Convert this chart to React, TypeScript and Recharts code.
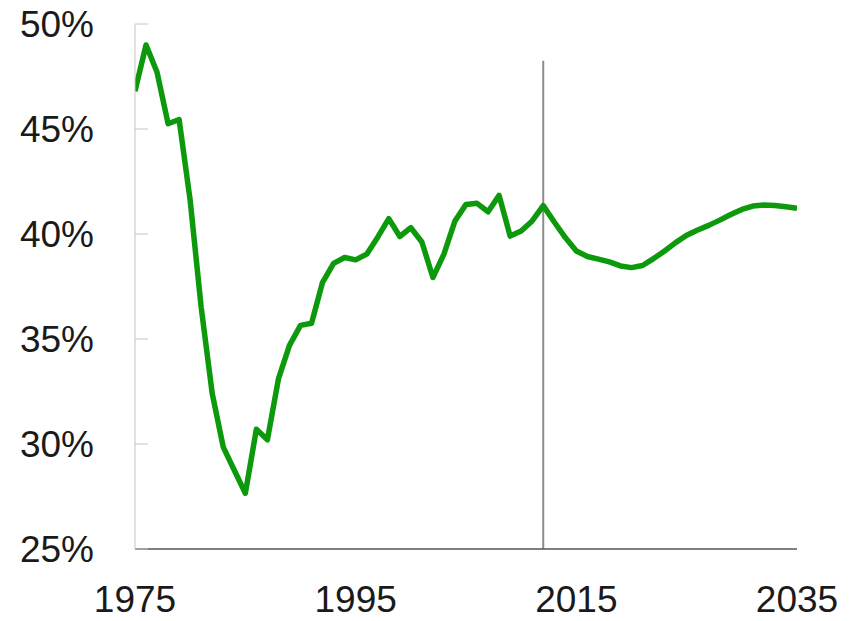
import { LineChart, Line, XAxis, YAxis, ReferenceLine } from 'recharts';

// years and share values (2013+ is the projection)
const years = [
    1975, 1976, 1977, 1978, 1979, 1980, 1981, 1982, 1983, 1984,
    1985, 1986, 1987, 1988, 1989, 1990, 1991, 1992, 1993, 1994,
    1995, 1996, 1997, 1998, 1999, 2000, 2001, 2002, 2003, 2004,
    2005, 2006, 2007, 2008, 2009, 2010, 2011, 2012, 2013, 2014,
    2015, 2016, 2017, 2018, 2019, 2020, 2021, 2022, 2023, 2024,
    2025, 2026, 2027, 2028, 2029, 2030, 2031, 2032, 2033, 2034,
    2035,
];
const shares = [
    46.8, 49.0, 47.7, 45.25, 45.45, 41.6, 36.5, 32.4, 29.85, 28.75,
    27.65, 30.7, 30.2, 33.1, 34.7, 35.65, 35.75, 37.7, 38.6, 38.88,
    38.77, 39.04, 39.85, 40.73, 39.88, 40.3, 39.62, 37.93, 39.04, 40.62,
    41.41, 41.46, 41.06, 41.84, 39.9, 40.14, 40.62, 41.35, 40.57, 39.83,
    39.19, 38.93, 38.8, 38.67, 38.48, 38.4, 38.5, 38.83, 39.19, 39.59,
    39.94, 40.19, 40.41, 40.66, 40.93, 41.17, 41.33, 41.38, 41.36, 41.3,
    41.22,
];
const xTicks = [1975, 1995, 2015, 2035];
const yTicks = [25, 30, 35, 40, 45, 50];
const splitYear = 2012;
const splitTop = 48.25;

const data = years.map((year, i) => ({ year, share: shares[i] }));

const tickFont = { fontFamily: '"Liberation Sans", Arial, sans-serif', fontSize: 37, fill: '#1a1a1a' };

export default function App() {
    return (
        <div style={{ position: 'absolute', left: 0, top: 0, background: '#fff' }}>
            <LineChart
                width={858}
                height={621}
                data={data}
                margin={{ top: 24, right: 61, bottom: 0, left: 0 }}
            >
                <XAxis
                    type="number"
                    dataKey="year"
                    domain={[1975, 2035]}
                    ticks={xTicks}
                    height={72}
                    tickLine={false}
                    tickSize={0}
                    tickMargin={37}
                    axisLine={{ stroke: '#555', strokeWidth: 1.5 }}
                    tick={tickFont}
                    allowDataOverflow
                />
                <YAxis
                    type="number"
                    domain={[25, 50]}
                    ticks={yTicks}
                    width={135}
                    tickSize={-13}
                    tickMargin={54}
                    tickLine={{ stroke: '#c4c4c4', strokeWidth: 1 }}
                    axisLine={{ stroke: '#c4c4c4', strokeWidth: 1 }}
                    tickFormatter={(v: number) => `${v}%`}
                    tick={tickFont}
                    allowDataOverflow
                />
                <ReferenceLine
                    segment={[{ x: splitYear, y: 25 }, { x: splitYear, y: splitTop }]}
                    stroke="#8c8c8c"
                    strokeWidth={2}
                />
                <Line
                    type="linear"
                    dataKey="share"
                    stroke="#0c990c"
                    strokeWidth={5.5}
                    dot={false}
                    strokeLinejoin="round"
                    isAnimationActive={false}
                />
            </LineChart>
        </div>
    );
}
